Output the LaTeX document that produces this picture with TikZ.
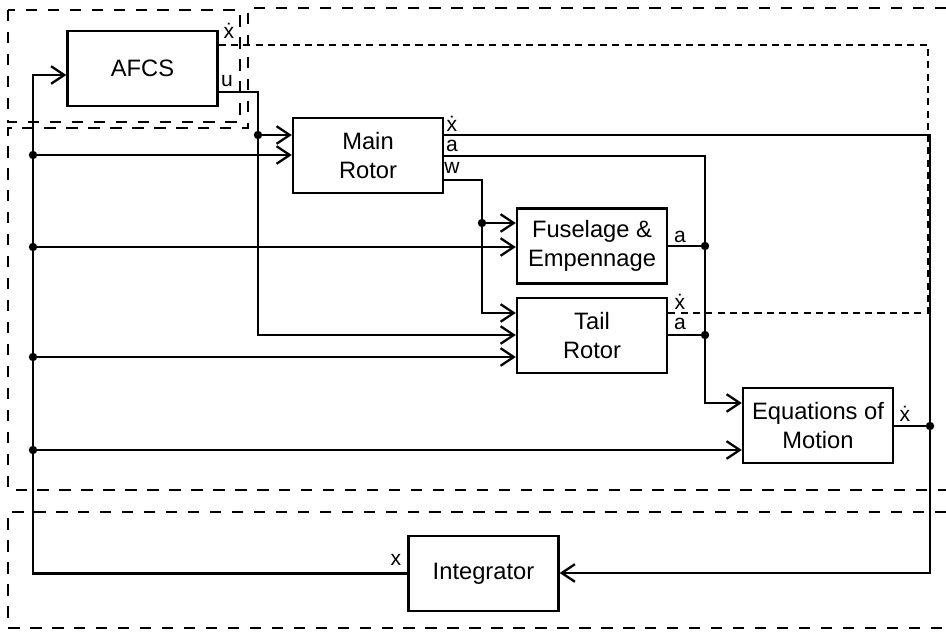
\documentclass[tikz,border=0pt]{standalone}
\usepackage{fontspec}
\setmainfont{Liberation Sans}
\usetikzlibrary{arrows.meta}

\begin{document}
\begin{tikzpicture}[x=0.02cm,y=-0.02cm,
  >={Straight Barb[length=7.5pt,width=10pt]},
  line width=1.3pt,
  block/.style={draw,line width=1.4pt,minimum width=3cm,minimum height=1.5cm,
    align=center,font=\fontsize{13.5}{16.5}\selectfont},
  lbl/.style={font=\fontsize{12}{13}\selectfont,inner sep=0pt},
  frame/.style={line width=1pt,dash pattern=on 6.5pt off 6pt},
  fine/.style={line width=1pt,dash pattern=on 4pt off 3pt}]
\useasboundingbox (0,0) rectangle (946,634);

% BLOCKS
\node[block] (afcs)  at (142.5,68.5) {AFCS};
\node[block] (main)  at (368,155.5)  {Main\\Rotor};
\node[block] (fus)   at (592,246)    {Fuselage \&\\Empennage};
\node[block] (tail)  at (592,335.5)  {Tail\\Rotor};
\node[block] (eom)   at (818,425.5)  {Equations of\\Motion};
\node[block] (integ) at (483.5,573.5) {Integrator};

% JUNCTIONS
\coordinate (xtop) at (33,75);
\coordinate (xj1) at (33,155);
\coordinate (xj2) at (33,247);
\coordinate (xj3) at (33,357);
\coordinate (xj4) at (33,450);
\coordinate (uj) at (258,135);
\coordinate (ub) at (258,335);
\coordinate (wj) at (482,223);
\coordinate (wb) at (482,313);
\coordinate (aj1) at (705,246);
\coordinate (aj2) at (705,335);
\coordinate (ab) at (705,403);
\coordinate (rj) at (930,426);
\coordinate (rb) at (930,573);

% ARROWS
\draw[->] (integ.west) -| (xtop) -- (afcs.west |- xtop);
\draw[->] (xj1) -- (main.west |- xj1);
\draw[->] (xj2) -- (fus.west |- xj2);
\draw[->] (xj3) -- (tail.west |- xj3);
\draw[->] (xj4) -- (eom.west |- xj4);

\draw[->] (afcs.east |- 0,92) -| (ub) -- (tail.west |- ub);
\draw[->] (uj) -- (main.west |- uj);

\draw[->] (main.east |- 0,180) -| (wb) -- (tail.west |- wb);
\draw[->] (wj) -- (fus.west |- wj);

\draw[->] (main.east |- 0,156) -| (ab) -- (eom.west |- ab);
\draw (fus.east |- aj1) -- (aj1);
\draw (tail.east |- aj2) -- (aj2);

\draw[->] (main.east |- 0,135) -| (rb) -- (integ.east |- rb);
\draw (eom.east |- rj) -- (rj);

\draw[fine] (afcs.east |- 0,45) -| (928,313) -- (tail.east |- 0,313);

\foreach \j in {xj1,xj2,xj3,xj4,uj,wj,aj1,aj2,rj}
  \fill (\j) circle (2.4pt);

% FRAMES
\draw[frame] (8,10) rectangle (240,122);
\draw[frame] (946,8) -- (248,8) -- (248,128) -- (8,128) -- (8,490) -- (946,490);
\draw[frame] (946,512) -- (8,512) -- (8,628) -- (946,628);

% NOTES
\node[lbl] (l1) at (229,31) {ẋ};
\node[lbl] (l2) at (227,81) {u};
\node[lbl] (l3) at (452,124) {ẋ};
\node[lbl] (l4) at (452,146) {a};
\node[lbl] (l5) at (452,168) {w};
\node[lbl] (l6) at (680,237) {a};
\node[lbl] (l7) at (680,302) {ẋ};
\node[lbl] (l8) at (680,324) {a};
\node[lbl] (l9) at (905,414) {ẋ};
\node[lbl] (l10) at (396,560) {x};
\end{tikzpicture}
\end{document}
